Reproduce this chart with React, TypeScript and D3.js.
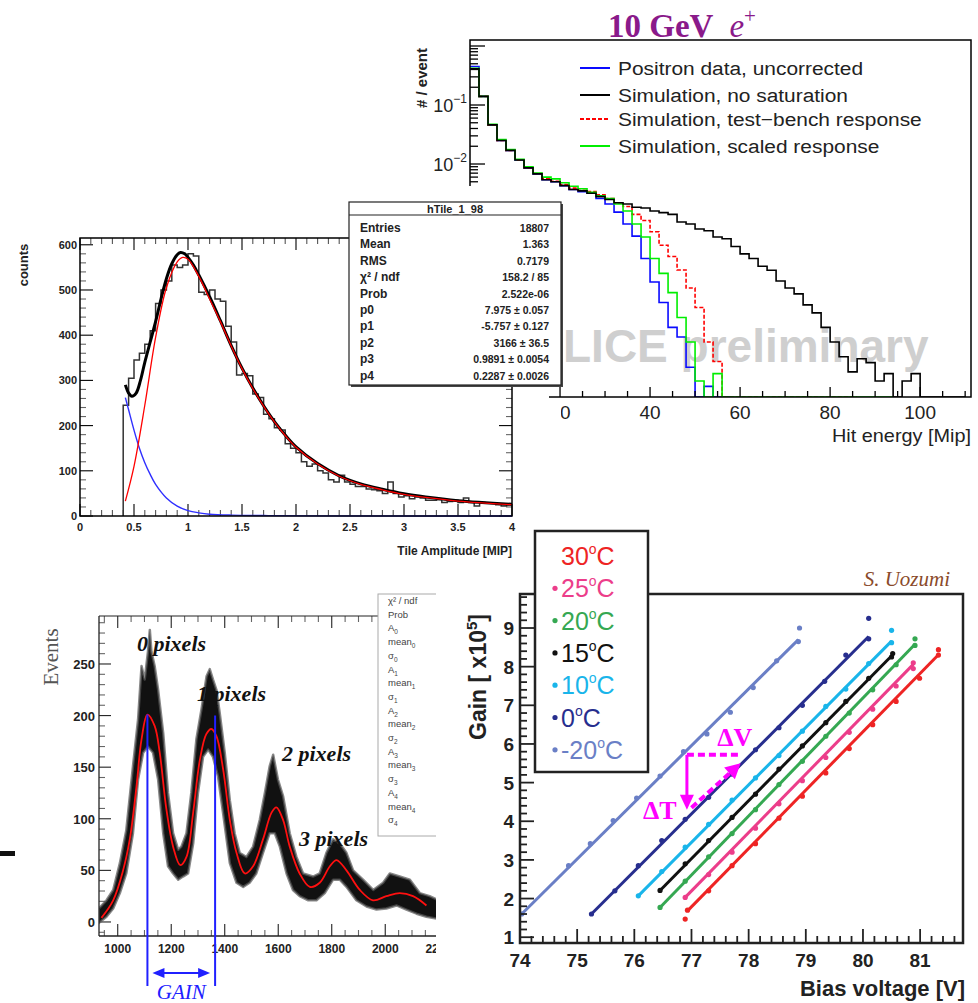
import React from "react";
import * as d3 from "d3";

// ================= Panel A : hit energy spectra, 10 GeV e+ =================
const aBinWidth = 2; // Mip per bin, bins start at 0
const aPositronData = [0.45, 0.14, 0.046, 0.025, 0.017, 0.0117, 0.0086, 0.0068, 0.0054, 0.005,
  0.0043, 0.0037, 0.0034, 0.0032, 0.0026, 0.0021, 0.00153, 0.00096, 0.0006, 0.00025,
  0.0001, 0.000045, 0.000017, 0.0000117, 0.0000036, 0, 0.0000017, 0, 0];
const aSimNoSat = [0.41, 0.14, 0.046, 0.025, 0.017, 0.0117, 0.0086, 0.0068, 0.0054, 0.005,
  0.0043, 0.0037, 0.0035, 0.0032, 0.0028, 0.0025, 0.0022, 0.0021, 0.00185, 0.0018,
  0.0016, 0.0015, 0.0014, 0.00104, 0.00096, 0.00079, 0.00074, 0.00058, 0.00054, 0.0004,
  0.0003, 0.00025, 0.000185, 0.000158, 0.000104, 0.000079, 0.000063, 0.000041, 0.00003, 0.000017,
  0.0000096, 0.0000054, 0.000003, 0.000005, 0.0000043, 0.0000021, 0.0000028, 0, 0.0000021, 0.0000028,
  0, 0, 0, 0, 0];
const aSimTestBench = [0.41, 0.14, 0.046, 0.025, 0.017, 0.0117, 0.0087, 0.0069, 0.0056, 0.0051,
  0.0045, 0.0039, 0.0036, 0.0034, 0.003, 0.0026, 0.0022, 0.0019, 0.0014, 0.0011,
  0.00071, 0.00042, 0.00027, 0.00016, 0.000079, 0.000037, 0.0000096, 0.0000045, 0, 0,
  0, 0, 0, 0, 0, 0, 0, 0, 0, 0, 0, 0, 0];
const aSimScaled = [0.42, 0.14, 0.047, 0.026, 0.0175, 0.012, 0.009, 0.007, 0.006, 0.0056,
  0.0048, 0.0042, 0.0038, 0.0033, 0.0029, 0.0026, 0.0021, 0.0016, 0.00096, 0.00058,
  0.00025, 0.00014, 0.000066, 0.000025, 0.0000096, 0.0000021, 0, 0.0000028, 0, 0,
  0, 0, 0, 0, 0, 0, 0, 0, 0, 0, 0, 0, 0, 0, 0, 0, 0];
const aXTicks = [20, 40, 60, 80, 100];
const aYDecades = [-1, -2];
const aLegendLabels = ["Positron data, uncorrected", "Simulation, no saturation", "Simulation, test\u2212bench response", "Simulation, scaled response"];

// ================= Panel B : tile amplitude with fit =================
const bBinStart = 0.4;
const bBinWidth = 0.05;
const bCounts = [245, 305, 345, 360, 380, 410, 470, 500, 520, 555,
  550, 555, 580, 575, 495, 490, 500, 480, 475, 420,
  385, 312, 315, 310, 270, 262, 225, 215, 195, 190,
  160, 150, 140, 120, 110, 115, 100, 95, 80, 75,
  90, 75, 70, 65, 65, 60, 58, 56, 50, 75,
  50, 42, 45, 38, 42, 40, 35, 35, 36, 30,
  32, 35, 30, 40, 30, 22, 30, 28, 28, 25,
  22, 25];
const bFitTotal: [number, number][] = [[0.42, 290], [0.45, 272], [0.48, 265], [0.52, 272], [0.56, 300], [0.6, 340], [0.65, 385], [0.7, 430], [0.75, 480], [0.8, 525], [0.85, 558], [0.9, 578], [0.93, 583], [0.97, 580], [1.0, 572], [1.05, 555], [1.1, 533], [1.2, 485], [1.3, 432], [1.4, 377], [1.5, 327], [1.6, 283], [1.7, 244], [1.8, 209], [1.9, 179], [2.0, 153], [2.2, 116], [2.4, 89], [2.6, 71], [2.8, 59], [3.0, 49], [3.2, 42], [3.5, 34], [4.0, 26]];
const bFitLandau: [number, number][] = [[0.42, 33], [0.5, 110], [0.6, 245], [0.7, 395], [0.8, 505], [0.9, 562], [0.95, 572], [1.0, 568], [1.1, 530], [1.2, 480], [1.3, 430], [1.4, 376], [1.5, 326], [1.6, 282], [1.7, 243], [1.8, 208], [1.9, 178], [2.0, 152], [2.2, 115], [2.4, 88], [2.6, 70], [2.8, 58], [3.0, 48], [3.2, 41], [3.5, 33], [4.0, 25]];
const bFitExp: [number, number][] = [[0.42, 262], [0.45, 235], [0.5, 190], [0.55, 150], [0.6, 118], [0.65, 92], [0.7, 70], [0.8, 40], [0.9, 22], [1.0, 12], [1.1, 7], [1.2, 4], [1.4, 2], [1.7, 1], [2.2, 0.3], [4.0, 0]];
const bXTicks = [0, 0.5, 1, 1.5, 2, 2.5, 3, 3.5, 4];
const bYTicks = [0, 100, 200, 300, 400, 500, 600];
const bStatsTitle = "hTile_1_98";
const bStatsLabels = ["Entries", "Mean", "RMS", "\u03c7\u00b2 / ndf", "Prob", "p0", "p1", "p2", "p3", "p4"];
const bStatsValues = ["18807", "1.363", "0.7179", "158.2 / 85", "2.522e-06", "7.975 \u00b1 0.057", "-5.757 \u00b1 0.127", "3166 \u00b1 36.5", "0.9891 \u00b1 0.0054", "0.2287 \u00b1 0.0026"];

// ================= Panel C : photo-electron peaks =================
const cFit: [number, number][] = [[939, 4], [983, 21], [1020, 50], [1045, 80], [1070, 131], [1089, 177], [1111, 201], [1138, 190], [1157, 164], [1182, 109], [1207, 73], [1234, 55], [1257, 63], [1282, 106], [1307, 157], [1331, 182], [1350, 187], [1369, 180], [1394, 148], [1419, 99], [1444, 67], [1475, 47], [1506, 54], [1543, 80], [1575, 106], [1593, 111], [1618, 99], [1643, 73], [1680, 47], [1718, 34], [1755, 38], [1793, 54], [1818, 60], [1855, 50], [1905, 31], [1954, 21], [2004, 25], [2054, 28], [2104, 25], [2154, 16]];
const cBandUpper: [number, number][] = [[929, 13], [958, 21], [983, 31], [1008, 57], [1032, 89], [1057, 151], [1076, 196], [1089, 248], [1101, 235], [1113, 262], [1120, 283], [1126, 262], [1138, 248], [1151, 225], [1170, 183], [1188, 125], [1207, 86], [1226, 70], [1238, 73], [1257, 86], [1275, 125], [1294, 177], [1313, 206], [1332, 238], [1344, 245], [1356, 235], [1369, 225], [1381, 203], [1400, 164], [1419, 118], [1437, 86], [1456, 67], [1481, 63], [1506, 73], [1531, 99], [1550, 125], [1568, 151], [1581, 162], [1599, 138], [1618, 122], [1643, 86], [1668, 63], [1693, 47], [1730, 44], [1755, 47], [1780, 67], [1805, 80], [1830, 76], [1855, 67], [1880, 50], [1917, 41], [1955, 31], [1992, 38], [2017, 47], [2054, 44], [2092, 41], [2129, 28], [2166, 25], [2200, 21]];
const cBandLower: [number, number][] = [[929, -1], [958, 5], [983, 13], [1008, 28], [1032, 47], [1057, 86], [1076, 138], [1095, 164], [1113, 170], [1132, 164], [1151, 138], [1170, 86], [1188, 54], [1207, 47], [1226, 41], [1244, 44], [1263, 47], [1282, 76], [1300, 125], [1319, 160], [1338, 167], [1356, 160], [1375, 141], [1394, 105], [1419, 57], [1444, 38], [1469, 34], [1493, 38], [1518, 47], [1543, 67], [1568, 86], [1587, 86], [1606, 73], [1631, 47], [1655, 31], [1680, 25], [1712, 21], [1743, 21], [1774, 28], [1805, 41], [1830, 41], [1855, 34], [1892, 21], [1930, 15], [1967, 12], [2004, 13], [2042, 16], [2079, 12], [2117, 8], [2154, 5], [2200, 3]];
const cXTicks = [1000, 1200, 1400, 1600, 1800, 2000, 2200];
const cYTicks = [0, 50, 100, 150, 200, 250];
const cPeakLabels = ["0 pixels", "1 pixels", "2 pixels", "3 pixels"];
const cGainMarks = [1111, 1364];
const cStatsLabels: [string, string][] = [["\u03c7\u00b2 / ndf", ""], ["Prob", ""], ["A", "0"], ["mean", "0"], ["\u03c3", "0"], ["A", "1"], ["mean", "1"], ["\u03c3", "1"], ["A", "2"], ["mean", "2"], ["\u03c3", "2"], ["A", "3"], ["mean", "3"], ["\u03c3", "3"], ["A", "4"], ["mean", "4"], ["\u03c3", "4"]];

// ================= Panel D : gain vs bias voltage =================
const dTempLabels = ["30", "25", "20", "15", "10", "0", "-20"];
const dColors = ["#ee2424", "#ec3d8a", "#35a852", "#111111", "#19b5ea", "#272e8e", "#6a7fc6"];
const d30C: [number, number][] = [[76.89, 1.47], [76.93, 1.7], [77.3, 2.2], [77.71, 2.85], [78.12, 3.42], [78.53, 4.08], [78.94, 4.65], [79.35, 5.25], [79.76, 5.88], [80.17, 6.5], [80.58, 7.1], [80.99, 7.7], [81.32, 8.3], [81.32, 8.44]];
const d25C: [number, number][] = [[76.89, 2.03], [77.3, 2.62], [77.71, 3.2], [78.12, 3.82], [78.53, 4.45], [78.94, 5.05], [79.35, 5.65], [79.76, 6.3], [80.17, 6.9], [80.58, 7.5], [80.88, 7.95], [80.88, 8.1]];
const d20C: [number, number][] = [[76.45, 1.77], [76.89, 2.45], [77.3, 3.08], [77.71, 3.68], [78.12, 4.3], [78.53, 4.95], [78.94, 5.55], [79.35, 6.2], [79.76, 6.8], [80.17, 7.4], [80.58, 8.05], [80.91, 8.55], [80.91, 8.72]];
const d15C: [number, number][] = [[76.45, 2.21], [76.89, 2.9], [77.3, 3.5], [77.71, 4.1], [78.12, 4.7], [78.53, 5.35], [78.94, 5.95], [79.35, 6.55], [79.7, 7.1], [80.1, 7.7], [80.5, 8.25], [80.52, 8.34]];
const d10C: [number, number][] = [[76.07, 2.07], [76.48, 2.7], [76.89, 3.33], [77.3, 3.92], [77.71, 4.55], [78.12, 5.12], [78.53, 5.7], [78.94, 6.33], [79.35, 6.97], [79.7, 7.42], [80.1, 8.08], [80.5, 8.62], [80.5, 8.94]];
const d0C: [number, number][] = [[75.25, 1.6], [75.66, 2.2], [76.07, 2.85], [76.48, 3.5], [76.89, 4.05], [77.3, 4.62], [77.71, 5.22], [78.12, 5.85], [78.53, 6.42], [78.94, 7.0], [79.33, 7.62], [79.7, 8.3], [80.1, 8.72], [80.1, 9.25]];
const dM20C: [number, number][] = [[74.03, 1.6], [74.85, 2.85], [75.23, 3.42], [75.63, 4.02], [76.04, 4.6], [76.45, 5.17], [76.86, 5.8], [77.27, 6.26], [77.68, 6.82], [78.08, 7.46], [78.49, 8.15], [78.87, 8.65], [78.89, 9.0]];
const dFitLines: [number, number, number, number][] = [[76.93, 1.68, 81.32, 8.31], [76.89, 2.03, 80.88, 8.06], [76.45, 1.77, 80.91, 8.58], [76.45, 2.21, 80.52, 8.31], [76.07, 2.07, 80.5, 8.66], [75.25, 1.6, 80.1, 8.78], [74.03, 1.6, 78.87, 8.7]];
const dXTicks = [74, 75, 76, 77, 78, 79, 80, 81];
const dYTicks = [1, 2, 3, 4, 5, 6, 7, 8, 9];

const SANS = "'Liberation Sans', Arial, Helvetica, sans-serif";
const SERIF = "'Liberation Serif', 'Times New Roman', serif";

function range(a: number, b: number, step: number) {
  const out: number[] = [];
  for (let i = 0; a + i * step <= b + 1e-9; i++) out.push(+(a + i * step).toFixed(6));
  return out;
}

function histPath(vals: number[], x0: number, bw: number, xs: (v: number) => number, ys: (v: number) => number, base: number, startAtBase = false) {
  const pts: [number, number][] = [];
  if (startAtBase) pts.push([xs(x0), base]);
  vals.forEach((v, i) => pts.push([xs(x0 + i * bw), v > 0 ? Math.min(base, ys(v)) : base]));
  pts.push([xs(x0 + vals.length * bw), pts[pts.length - 1][1]]);
  return d3.line().curve(d3.curveStepAfter)(pts) || "";
}

export default function App() {
  const aX = d3.scaleLinear().domain([0, 111.3]).range([470, 971]);
  const aY = d3.scaleLog().domain([1.125e-6, 1.264]).range([397, 40]);
  const bX = d3.scaleLinear().domain([0, 4]).range([80, 512]);
  const bY = d3.scaleLinear().domain([0, 615]).range([516, 238]);
  const cX = d3.scaleLinear().domain([930, 2260]).range([99, 454.8]);
  const cY = d3.scaleLinear().domain([-13.6, 296.5]).range([936, 616]);
  const dX = d3.scaleLinear().domain([74, 81.75]).range([520, 963]);
  const dY = d3.scaleLinear().domain([0.85, 9.88]).range([943, 594]);

  const aBase = 397;
  const aSeries = [
    { vals: aPositronData, color: "#0a0aff", dash: "" },
    { vals: aSimTestBench, color: "#ff0000", dash: "4,2" },
    { vals: aSimScaled, color: "#00ee00", dash: "" },
    { vals: aSimNoSat, color: "#000000", dash: "" },
  ];
  const aLegendStyle = [
    { color: "#0a0aff", dash: "" },
    { color: "#000000", dash: "" },
    { color: "#ff0000", dash: "4,2" },
    { color: "#00ee00", dash: "" },
  ];
  const aLegendY = [68, 95, 119, 146];

  const aLogTicks: { y: number; major: boolean }[] = [];
  for (let e = -6; e <= 0; e++) {
    for (let k = 1; k <= 9; k++) {
      const v = k * Math.pow(10, e);
      if (v >= 1.125e-6 && v <= 1.264) aLogTicks.push({ y: aY(v), major: k === 1 });
    }
  }

  const lineGen = (xs: any, ys: any) => d3.line<[number, number]>().x(d => xs(d[0])).y(d => ys(d[1]));
  const smooth = (xs: any, ys: any) => d3.line<[number, number]>().x(d => xs(d[0])).y(d => ys(d[1])).curve(d3.curveCatmullRom.alpha(0.5));

  const dSeries = [d30C, d25C, d20C, d15C, d10C, d0C, dM20C];

  const bandPts: [number, number][] = [...cBandUpper, ...cBandLower.slice().reverse()];
  const bandPath = (lineGen(cX, cY)(bandPts) || "") + "Z";

  const peakLabelPos = [[137, 651], [197, 701], [282, 761], [299, 846]];

  const annV0 = 76.92, annV1 = 77.88, annG = 5.72, annG1 = 4.3;
  const ax0 = dX(annV0), ax1 = dX(annV1), ayTop = dY(annG), ayBot = dY(annG1);
  const diagStart = [dX(77.0), dY(4.35)], diagEnd = [dX(77.86), dY(5.5)];
  const ang = Math.atan2(diagEnd[1] - diagStart[1], diagEnd[0] - diagStart[0]);
  const ah = 15, aw = 8;
  const diagHead = [
    [diagEnd[0], diagEnd[1]],
    [diagEnd[0] - ah * Math.cos(ang) + aw * Math.sin(ang), diagEnd[1] - ah * Math.sin(ang) - aw * Math.cos(ang)],
    [diagEnd[0] - ah * Math.cos(ang) - aw * Math.sin(ang), diagEnd[1] - ah * Math.sin(ang) + aw * Math.cos(ang)],
  ];

  return (
    <svg width={978} height={1003} viewBox="0 0 978 1003" style={{ position: "absolute", left: 0, top: 0, display: "block" }} xmlns="http://www.w3.org/2000/svg">
      <defs>
        <clipPath id="clipA"><rect x={470} y={40} width={501} height={357} /></clipPath>
        <clipPath id="clipC"><rect x={0} y={566} width={436} height={437} /></clipPath>
        <clipPath id="clipCframe"><rect x={99} y={616} width={337} height={320} /></clipPath>
        <clipPath id="clipD"><rect x={520} y={594} width={443} height={349} /></clipPath>
      </defs>
      <rect x={0} y={0} width={978} height={1003} fill="#fff" />

      {/* ======================= PANEL A ======================= */}
      <g>
        <text x={608} y={37} fontFamily={SERIF} fontWeight="bold" fontSize={33} fill="#8a1a8a">
          10 GeV<tspan dx={16} fontStyle="italic" fontWeight="normal">e</tspan><tspan fontSize={21} dy={-14} fontWeight="normal">+</tspan>
        </text>
        <text x={563} y={362} fontFamily={SANS} fontWeight="bold" fontSize={46} fill="#cfcfcf">LICE preliminary</text>
        <g clipPath="url(#clipA)">
          {aSeries.map((s, i) => (
            <path key={i} d={histPath(s.vals, 0, aBinWidth, aX, aY, aBase)} fill="none" stroke={s.color} strokeWidth={1.6} strokeDasharray={s.dash} />
          ))}
        </g>
        <rect x={470} y={40} width={501} height={357} fill="none" stroke="#000" strokeWidth={1.5} />
        {aLogTicks.map((t, i) => (
          <line key={i} x1={470} x2={470 + (t.major ? 15 : 8)} y1={t.y} y2={t.y} stroke="#000" strokeWidth={1.3} />
        ))}
        {aYDecades.map(e => (
          <text key={e} x={467} y={aY(Math.pow(10, e)) + 7} textAnchor="end" fontFamily={SANS} fontSize={18} fill="#222">
            10<tspan fontSize={12} dy={-9}>{"\u2212" + Math.abs(e)}</tspan>
          </text>
        ))}
        <text transform="translate(427,78) rotate(-90)" textAnchor="middle" fontFamily={SANS} fontWeight="bold" fontSize={15} fill="#222"># / event</text>
        {range(0, 111, 5).map(v => (
          <line key={v} x1={aX(v)} x2={aX(v)} y1={aBase} y2={aBase - (v % 20 === 0 ? 10 : 6)} stroke="#000" strokeWidth={1.3} />
        ))}
        {aXTicks.map(v => (
          <text key={v} x={aX(v)} y={419} textAnchor="middle" fontFamily={SANS} fontSize={19} fill="#222">{v}</text>
        ))}
        <text x={971} y={442} textAnchor="end" fontFamily={SANS} fontSize={19} fill="#222" textLength={139} lengthAdjust="spacingAndGlyphs">Hit energy [Mip]</text>
        {aLegendLabels.map((l, i) => (
          <g key={i}>
            <line x1={580} x2={610} y1={aLegendY[i]} y2={aLegendY[i]} stroke={aLegendStyle[i].color} strokeWidth={2} strokeDasharray={aLegendStyle[i].dash} />
            <text x={618} y={aLegendY[i] + 7} fontFamily={SANS} fontSize={19} fill="#222" transform={`translate(${618 * -0.1},0) scale(1.1,1)`}>{l}</text>
          </g>
        ))}
      </g>

      {/* ======================= PANEL B ======================= */}
      <g>
        <rect x={0} y={186} width={549} height={380} fill="#fff" />
        <rect x={549} y={399} width={12} height={28} fill="#fff" />
        {range(0, 615, 20).map(v => (
          <g key={v}>
            <line x1={80} x2={80 + (v % 100 === 0 ? 13 : 6)} y1={bY(v)} y2={bY(v)} stroke={v % 100 === 0 ? "#000" : "#666"} strokeWidth={1.1} />
            <line x1={512} x2={512 - (v % 100 === 0 ? 13 : 6)} y1={bY(v)} y2={bY(v)} stroke={v % 100 === 0 ? "#000" : "#666"} strokeWidth={1.1} />
          </g>
        ))}
        {range(0, 4, 0.1).map(v => {
          const major = Math.abs(v * 2 - Math.round(v * 2)) < 1e-6;
          return (
            <g key={v}>
              <line x1={bX(v)} x2={bX(v)} y1={516} y2={516 - (major ? 12 : 6)} stroke={major ? "#000" : "#555"} strokeWidth={1.1} />
              <line x1={bX(v)} x2={bX(v)} y1={238} y2={238 + (major ? 12 : 6)} stroke={major ? "#000" : "#555"} strokeWidth={1.1} />
            </g>
          );
        })}
        <path d={histPath(bCounts, bBinStart, bBinWidth, bX, bY, 516, true)} fill="none" stroke="#333" strokeWidth={1.5} />
        <path d={smooth(bX, bY)(bFitTotal) || ""} fill="none" stroke="#000" strokeWidth={3} />
        <path d={smooth(bX, bY)(bFitExp) || ""} fill="none" stroke="#3030ff" strokeWidth={1.4} />
        <path d={smooth(bX, bY)(bFitLandau) || ""} fill="none" stroke="#ff0000" strokeWidth={1.3} />
        <rect x={80} y={238} width={432} height={278} fill="none" stroke="#000" strokeWidth={1.5} />
        {bYTicks.map(v => (
          <text key={v} x={77} y={bY(v) + 4} textAnchor="end" fontFamily={SANS} fontWeight="bold" fontSize={11} fill="#222">{v}</text>
        ))}
        {bXTicks.map(v => (
          <text key={v} x={bX(v)} y={531} textAnchor="middle" fontFamily={SANS} fontWeight="bold" fontSize={11} fill="#222">{v}</text>
        ))}
        <text transform="translate(28,265) rotate(-90)" textAnchor="middle" fontFamily={SANS} fontWeight="bold" fontSize={13} fill="#222">counts</text>
        <text x={512} y={555} textAnchor="end" fontFamily={SANS} fontWeight="bold" fontSize={12} fill="#222">Tile Amplitude [MIP]</text>
        <rect x={351} y={204} width={212} height={183} fill="#444" />
        <rect x={349} y={202} width={212} height={183} fill="#fff" stroke="#222" strokeWidth={1.2} />
        <line x1={349} x2={561} y1={215} y2={215} stroke="#222" strokeWidth={1.2} />
        <text x={455} y={212.5} textAnchor="middle" fontFamily={SANS} fontWeight="bold" fontSize={11} fill="#222">{bStatsTitle}</text>
        {bStatsLabels.map((l, i) => (
          <g key={i}>
            <text x={360} y={232 + i * 16.4} fontFamily={SANS} fontWeight="bold" fontSize={12} fill="#222">{l}</text>
            <text x={549} y={232 + i * 16.4} textAnchor="end" fontFamily={SANS} fontWeight="bold" fontSize={10.5} fill="#222">{bStatsValues[i]}</text>
          </g>
        ))}
      </g>

      {/* ======================= PANEL C ======================= */}
      <g clipPath="url(#clipC)">
        <rect x={0} y={566} width={436} height={437} fill="#fff" />
        {range(-10, 290, 10).map(v => (
          <line key={v} x1={99} x2={99 + (v % 50 === 0 ? 12 : 6)} y1={cY(v)} y2={cY(v)} stroke={v % 50 === 0 ? "#222" : "#666"} strokeWidth={1.1} />
        ))}
        {range(950, 2250, 50).map(v => (
          <g key={v}>
            <line x1={cX(v)} x2={cX(v)} y1={936} y2={936 - (v % 200 === 0 ? 12 : 6)} stroke={v % 200 === 0 ? "#222" : "#666"} strokeWidth={1.1} />
            <line x1={cX(v)} x2={cX(v)} y1={616} y2={616 + (v % 200 === 0 ? 12 : 6)} stroke={v % 200 === 0 ? "#222" : "#666"} strokeWidth={1.1} />
          </g>
        ))}
        <g clipPath="url(#clipCframe)">
          <path d={bandPath} fill="#111" stroke="#555" strokeWidth={2.5} strokeOpacity={0.7} strokeLinejoin="round" />
          <path d={smooth(cX, cY)(cFit) || ""} fill="none" stroke="#ff1010" strokeWidth={1.8} />
        </g>
        <line x1={99} x2={99} y1={616} y2={936} stroke="#222" strokeWidth={1.3} />
        <line x1={99} x2={460} y1={936} y2={936} stroke="#222" strokeWidth={1.3} />
        <line x1={99} x2={460} y1={616} y2={616} stroke="#222" strokeWidth={1.1} />
        {cYTicks.map(v => (
          <text key={v} x={95} y={cY(v) + 5} textAnchor="end" fontFamily={SANS} fontWeight="bold" fontSize={13} fill="#222">{v}</text>
        ))}
        {cXTicks.map(v => (
          <text key={v} x={cX(v)} y={953} textAnchor="middle" fontFamily={SANS} fontWeight="bold" fontSize={12} fill="#222">{v}</text>
        ))}
        <text transform="translate(58,657) rotate(-90)" textAnchor="middle" fontFamily={SERIF} fontSize={21} fill="#555">Events</text>
        {cPeakLabels.map((l, i) => (
          <text key={i} x={peakLabelPos[i][0]} y={peakLabelPos[i][1]} fontFamily={SERIF} fontStyle="italic" fontWeight="bold" fontSize={22} fill="#111">{l}</text>
        ))}
        <rect x={378} y={594} width={70} height={242} fill="#fff" stroke="#aaa" strokeWidth={1} />
        {cStatsLabels.map((l, i) => (
          <text key={i} x={388} y={604 + i * 13.7} fontFamily={SANS} fontSize={9.5} fill="#444">
            {l[0]}{l[1] ? <tspan fontSize={6.5} dy={3}>{l[1]}</tspan> : null}
          </text>
        ))}
        {cGainMarks.map((v, i) => (
          <line key={i} x1={cX(v)} x2={cX(v)} y1={cY(i === 0 ? 201 : 200)} y2={986} stroke="#2020ff" strokeWidth={2} />
        ))}
        <line x1={cX(cGainMarks[0]) + 12} x2={cX(cGainMarks[1]) - 12} y1={973} y2={973} stroke="#2020ff" strokeWidth={2} />
        <polygon points={`${cX(cGainMarks[0]) + 5},973 ${cX(cGainMarks[0]) + 17},968 ${cX(cGainMarks[0]) + 17},978`} fill="#2020ff" />
        <polygon points={`${cX(cGainMarks[1]) - 5},973 ${cX(cGainMarks[1]) - 17},968 ${cX(cGainMarks[1]) - 17},978`} fill="#2020ff" />
        <text x={(cX(cGainMarks[0]) + cX(cGainMarks[1])) / 2} y={999} textAnchor="middle" fontFamily={SERIF} fontStyle="italic" fontSize={21} fill="#2020ff">GAIN</text>
      </g>
      <rect x={0} y={851} width={15} height={5} fill="#111" />

      {/* ======================= PANEL D ======================= */}
      <g>
        <text x={950} y={586} textAnchor="end" fontFamily={SERIF} fontStyle="italic" fontSize={21} fill="#8a4a2a">S. Uozumi</text>
        <g clipPath="url(#clipD)">
          {dFitLines.map((f, i) => (
            <line key={i} x1={dX(f[0])} y1={dY(f[1])} x2={dX(f[2])} y2={dY(f[3])} stroke={dColors[i]} strokeWidth={3} />
          ))}
          {dSeries.map((s, i) => s.map((p, j) => (
            <circle key={i + "-" + j} cx={dX(p[0])} cy={dY(p[1])} r={2.6} fill={dColors[i]} />
          )))}
        </g>
        {range(1, 9.8, 0.2).map(v => {
          const major = Math.abs(v - Math.round(v)) < 1e-6;
          return <line key={v} x1={520} x2={520 + (major ? 14 : 7)} y1={dY(v)} y2={dY(v)} stroke="#222" strokeWidth={1.8} />;
        })}
        {range(74, 81.7, 0.2).map(v => {
          const major = Math.abs(v - Math.round(v)) < 1e-6;
          return <line key={v} x1={dX(v)} x2={dX(v)} y1={943} y2={943 - (major ? 14 : 7)} stroke="#222" strokeWidth={1.8} />;
        })}
        <rect x={520} y={594} width={443} height={349} fill="none" stroke="#222" strokeWidth={2.5} />
        {dYTicks.map(v => (
          <text key={v} x={514} y={dY(v) + 7} textAnchor="end" fontFamily={SANS} fontWeight="bold" fontSize={19} fill="#222">{v}</text>
        ))}
        {dXTicks.map(v => (
          <text key={v} x={dX(v)} y={967} textAnchor="middle" fontFamily={SANS} fontWeight="bold" fontSize={19} fill="#222">{v}</text>
        ))}
        <text x={965} y={996} textAnchor="end" fontFamily={SANS} fontWeight="bold" fontSize={22} fill="#222">Bias voltage [V]</text>
        <text transform="translate(486,677) rotate(-90)" textAnchor="middle" fontFamily={SANS} fontWeight="bold" fontSize={23} fill="#222">
          Gain [ x10<tspan fontSize={15} dy={-9}>5</tspan><tspan dy={9}>]</tspan>
        </text>
        <line x1={ax0} x2={ax1} y1={ayTop} y2={ayTop} stroke="#ff00ff" strokeWidth={4} strokeDasharray="7,4" />
        <line x1={ax0} x2={ax0} y1={ayTop} y2={ayBot - 12} stroke="#ff00ff" strokeWidth={3} />
        <polygon points={`${ax0},${ayBot} ${ax0 - 7},${ayBot - 15} ${ax0 + 7},${ayBot - 15}`} fill="#ff00ff" />
        <line x1={diagStart[0]} y1={diagStart[1]} x2={diagEnd[0] - 10 * Math.cos(ang)} y2={diagEnd[1] - 10 * Math.sin(ang)} stroke="#ff00ff" strokeWidth={4} strokeDasharray="7,4" />
        <polygon points={diagHead.map(p => p.join(",")).join(" ")} fill="#ff00ff" />
        <text x={dX(77.45)} y={dY(5.95)} fontFamily={SERIF} fontWeight="bold" fontSize={26} fill="#ff00ff">{"\u0394V"}</text>
        <text x={dX(76.15)} y={dY(4.05)} fontFamily={SERIF} fontWeight="bold" fontSize={26} fill="#ff00ff">{"\u0394T"}</text>
        <rect x={535} y={531} width={113} height={241} fill="#fff" stroke="#222" strokeWidth={2.5} />
        {dTempLabels.map((t, i) => {
          const y = 556 + i * 32.3;
          return (
            <g key={i}>
              {i > 0 ? <circle cx={555} cy={y} r={2.6} fill={dColors[i]} /> : null}
              <text x={561} y={y + 9} fontFamily={SANS} fontSize={25} fill={dColors[i]}>
                {t}<tspan fontSize={14} dy={-11}>o</tspan><tspan dy={11}>C</tspan>
              </text>
            </g>
          );
        })}
      </g>
    </svg>
  );
}
